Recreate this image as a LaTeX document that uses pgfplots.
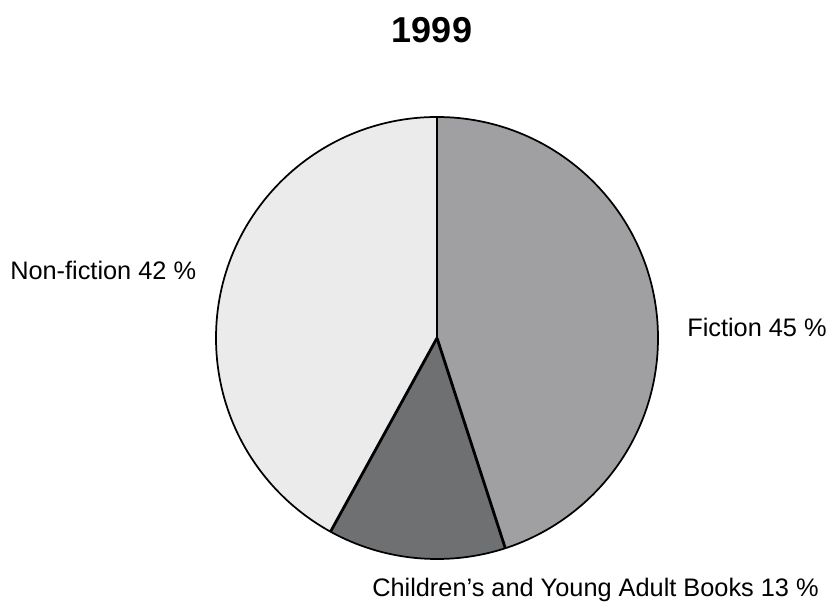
\documentclass[border=0pt]{standalone}
\usepackage{pgfplots}
\pgfplotsset{compat=1.18}
\usepackage{pgfplotstable}
\usepackage{fontspec}
\setmainfont{Liberation Sans}

\definecolor{cFic}{RGB}{160,160,162}
\definecolor{cChi}{RGB}{111,112,114}
\definecolor{cNon}{RGB}{234,235,234}

\pgfplotstableread{
label value
Fiction 45
Children 13
Nonfiction 42
}\piedata

\pgfplotstablegetelem{0}{value}\of\piedata \let\vA\pgfplotsretval
\pgfplotstablegetelem{1}{value}\of\piedata \let\vB\pgfplotsretval
\pgfplotstablegetelem{2}{value}\of\piedata \let\vC\pgfplotsretval
\pgfmathsetmacro{\aS}{90}
\pgfmathsetmacro{\aA}{90-3.6*\vA}
\pgfmathsetmacro{\aB}{\aA-3.6*\vB}
\pgfmathsetmacro{\aC}{\aB-3.6*\vC}

\begin{document}
\begin{tikzpicture}
\def\R{165.75pt}
\begin{axis}[
  x=0.75pt, y=0.75pt,
  xmin=0, xmax=830, ymin=0, ymax=605,
  hide axis, clip=false, disabledatascaling,
]
\path (axis cs:0,0) rectangle (axis cs:830,605);
\fill[cFic] (axis cs:437,267) -- ++(\aS:\R) arc[start angle=\aS, end angle=\aA, radius=\R] -- cycle;
\fill[cChi] (axis cs:437,267) -- ++(\aA:\R) arc[start angle=\aA, end angle=\aB, radius=\R] -- cycle;
\fill[cNon] (axis cs:437,267) -- ++(\aB:\R) arc[start angle=\aB, end angle=\aC, radius=\R] -- cycle;
\draw[line width=1.3pt] (axis cs:437,267) circle[radius=\R];
\draw[line width=2.1pt] (axis cs:437,267) -- ++(\aS:\R);
\draw[line width=2.1pt] (axis cs:437,267) -- ++(\aA:\R);
\draw[line width=2.1pt] (axis cs:437,267) -- ++(\aB:\R);
\node[font=\fontsize{27}{32}\selectfont\bfseries] at (axis cs:432,575) {1999};
\node[anchor=west, inner sep=0pt, font=\fontsize{19}{23}\selectfont] at (axis cs:10,335) {Non-fiction 42 \%};
\node[anchor=west, inner sep=0pt, font=\fontsize{19}{23}\selectfont] at (axis cs:687,278) {Fiction 45 \%};
\node[anchor=west, inner sep=0pt, font=\fontsize{19}{23}\selectfont] at (axis cs:372,15) {Children’s and Young Adult Books 13 \%};
\end{axis}
\end{tikzpicture}
\end{document}
